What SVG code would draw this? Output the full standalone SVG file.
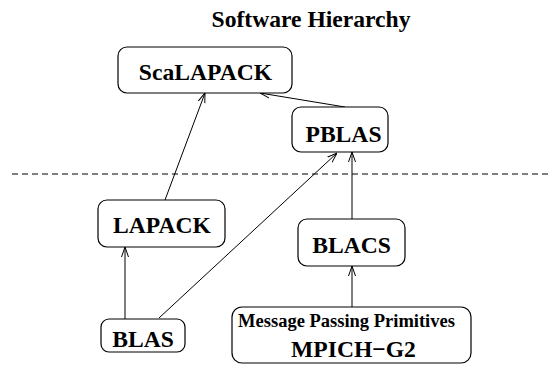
<svg xmlns="http://www.w3.org/2000/svg" width="551" height="365" viewBox="0 0 551 365">
<style>
.box{fill:#fff;stroke:#000;stroke-width:1.2}
.lbl{font-family:"Liberation Serif","Times New Roman",serif;font-weight:bold;font-size:23.6px;text-anchor:middle;fill:#000}
.small{font-size:18.5px}
.conn{stroke:#000;stroke-width:1;fill:none;marker-end:url(#ah)}
</style>
<defs>
<marker id="ah" viewBox="0 0 10 10" refX="10" refY="5" markerWidth="10" markerHeight="10" markerUnits="userSpaceOnUse" orient="auto">
<path d="M0,1.5 L10,5 L0,8.5" fill="none" stroke="#000" stroke-width="1"/>
</marker>
</defs>
<rect width="551" height="365" fill="#fff"/>
<text class="lbl" x="311" y="27">Software Hierarchy</text>
<line x1="12" y1="174" x2="551" y2="174" stroke="#000" stroke-width="1" stroke-dasharray="6,4"/>
<g id="connectors">
<line class="conn" x1="165" y1="200" x2="205" y2="93"/>
<line class="conn" x1="345" y1="107" x2="260" y2="93"/>
<line class="conn" x1="125" y1="319" x2="125" y2="247"/>
<line class="conn" x1="159" y1="318" x2="337" y2="153"/>
<line class="conn" x1="352" y1="219" x2="352" y2="152"/>
<line class="conn" x1="352" y1="307" x2="352" y2="266"/>
</g>
<g id="scalapack"><rect class="box" x="118" y="47" width="174" height="46" rx="9"/><text class="lbl" x="205.5" y="80">ScaLAPACK</text></g>
<g id="pblas"><rect class="box" x="292" y="107" width="96" height="45" rx="9"/><text class="lbl" x="343.5" y="142">PBLAS</text></g>
<g id="lapack"><rect class="box" x="98" y="200" width="127" height="47" rx="9"/><text class="lbl" x="162" y="233">LAPACK</text></g>
<g id="blas"><rect class="box" x="101" y="319" width="84" height="33" rx="8"/><text class="lbl" x="143" y="347">BLAS</text></g>
<g id="blacs"><rect class="box" x="298" y="219" width="107" height="47" rx="9"/><text class="lbl" x="351.5" y="253">BLACS</text></g>
<g id="mpich"><rect class="box" x="232" y="307" width="239" height="56" rx="10"/><text class="lbl small" x="346.5" y="327">Message Passing Primitives</text><text class="lbl" x="353.5" y="357">MPICH−G2</text></g>
</svg>
